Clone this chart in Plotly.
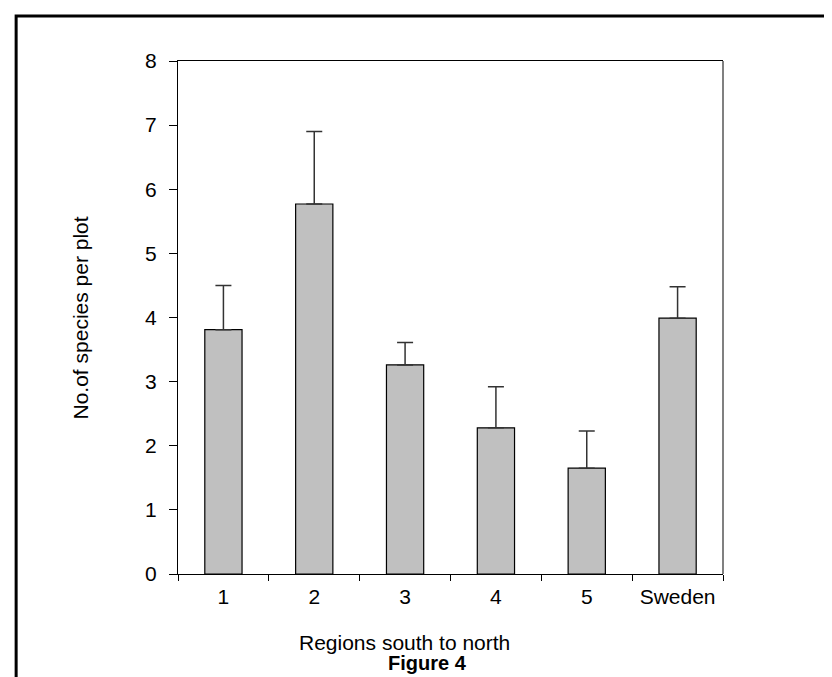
import plotly.graph_objects as go

categories = ["1", "2", "3", "4", "5", "Sweden"]
species_mean = [3.81, 5.77, 3.26, 2.28, 1.65, 3.99]
species_err = [0.69, 1.13, 0.35, 0.64, 0.58, 0.49]
y_ticks = [0, 1, 2, 3, 4, 5, 6, 7, 8]

FONT = "Liberation Sans, Arial, sans-serif"

fig = go.Figure()
fig.add_trace(go.Bar(
    x=categories,
    y=species_mean,
    marker=dict(color="#C0C0C0", line=dict(color="#000000", width=1.2)),
    error_y=dict(type="data", symmetric=False, array=species_err,
                 arrayminus=[0] * len(species_err),
                 color="#333333", thickness=1.5, width=8),
    showlegend=False,
))

fig.update_layout(
    width=832, height=677,
    margin=dict(l=170, r=117, t=53, b=111),
    paper_bgcolor="white", plot_bgcolor="white",
    font=dict(family=FONT, size=21, color="black"),
    bargap=0.59,
    xaxis=dict(
        type="category", tickson="boundaries", ticks="outside", ticklen=6,
        tickwidth=1, tickcolor="black", ticklabelstandoff=4,
        showline=True, linecolor="black", linewidth=1, mirror=True,
        showgrid=False, zeroline=False,
        tickfont=dict(size=21),
    ),
    yaxis=dict(
        range=[0, 8], tickvals=y_ticks, ticks="outside", ticklen=8,
        tickwidth=1, tickcolor="black", ticklabelstandoff=8,
        showline=True, linecolor="black", linewidth=1,
        showgrid=False, zeroline=False,
        tickfont=dict(size=21),
    ),
    shapes=[
        dict(type="line", xref="paper", yref="paper", x0=1, x1=1, y0=0, y1=1,
             line=dict(color="#808080", width=2)),
        dict(type="rect", xref="paper", yref="paper",
             x0=-0.297, x1=1.35, y0=-0.3, y1=1.0877,
             line=dict(color="black", width=3), layer="below"),
    ],
    annotations=[
        dict(text="No.of species per plot", xref="paper", yref="paper",
             x=-0.178, y=0.5, textangle=-90, showarrow=False,
             xanchor="center", yanchor="middle", font=dict(size=21)),
        dict(text="Regions south to north", xref="paper", yref="paper",
             x=0.4156, y=-0.134, showarrow=False,
             xanchor="center", yanchor="middle", font=dict(size=21)),
        dict(text="<b>Figure 4</b>", xref="paper", yref="paper",
             x=0.457, y=-0.173, showarrow=False,
             xanchor="center", yanchor="middle", font=dict(size=20)),
    ],
)

fig.write_html("out.html")
